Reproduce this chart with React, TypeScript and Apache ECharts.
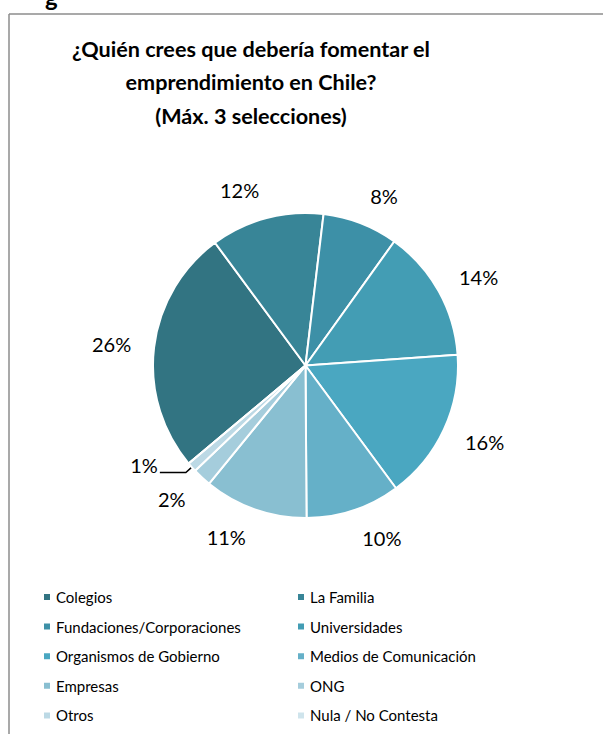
import React, { useEffect, useRef } from "react";
import * as echarts from "echarts";

const categories = [
  "Colegios",
  "La Familia",
  "Fundaciones/Corporaciones",
  "Universidades",
  "Organismos de Gobierno",
  "Medios de Comunicación",
  "Empresas",
  "ONG",
  "Otros",
  "Nula / No Contesta",
];
const values = [26, 12, 8, 14, 16, 10, 11, 2, 1, 0];
const colors = [
  "#327482",
  "#388597",
  "#3d90a7",
  "#439db4",
  "#4aa7c1",
  "#65b0c8",
  "#89bfd1",
  "#a5cddc",
  "#bcd9e5",
  "#cfe4ec",
];
const titleLines = [
  "¿Quién crees que debería fomentar el",
  "emprendimiento en Chile?",
  "(Máx. 3 selecciones)",
];
const leaderCategory = "Otros";

const START_ANGLE = 220; // echarts degrees (ccw from 3 o'clock)

export default function App() {
  const ref = useRef<HTMLDivElement>(null);
  useEffect(() => {
    if (!ref.current) return;
    const chart = echarts.init(ref.current, undefined, { renderer: "svg" });
    const total = values.reduce((a, b) => a + b, 0);
    // mid angles, clockwise from 12 o'clock, radians
    const theta0 = 90 - START_ANGLE;
    let cum = 0;
    const mids = values.map((v) => {
      const m = theta0 + (360 * (cum + v / 2)) / total;
      cum += v;
      return (m * Math.PI) / 180;
    });

    const data = categories.map((name, i) => {
      const item: any = { name, value: values[i], itemStyle: { color: colors[i] } };
      if (values[i] === 0) item.label = { show: false };
      if (name === leaderCategory) {
        item.labelLine = {
          show: true,
          length: 8,
          length2: 26,
          lineStyle: { color: "#000", width: 1.5 },
        };
      }
      return item;
    });

    const legendBase = {
      orient: "vertical",
      itemWidth: 8,
      itemHeight: 8,
      itemGap: 11.6,
      icon: "rect",
      selectedMode: false,
      top: 588,
      padding: 0,
      height: 160,
      textStyle: { fontFamily: "Lato", fontSize: 15, color: "#000", lineHeight: 18 },
    };

    chart.setOption({
      animation: false,
      backgroundColor: "#fff",
      title: {
        text: titleLines.join("\n"),
        left: 251,
        top: 32,
        textAlign: "center",
        padding: 0,
        textStyle: {
          fontFamily: "Lato",
          fontWeight: "bold",
          fontSize: 21.6,
          lineHeight: 33.5,
          color: "#000",
        },
      },
      legend: [
        { ...legendBase, left: 42, data: categories.filter((_, i) => i % 2 === 0) },
        { ...legendBase, left: 296, data: categories.filter((_, i) => i % 2 === 1) },
      ],
      graphic: [
        {
          type: "text",
          x: 45,
          y: -4,
          silent: true,
          style: {
            text: "g",
            fontFamily: "Lato",
            fontWeight: "bold",
            fontSize: 24,
            fill: "#000",
            textVerticalAlign: "middle",
          },
        },
        {
          type: "line",
          shape: { x1: 9, y1: 14, x2: 603, y2: 14 },
          style: { stroke: "#8c8c8c", lineWidth: 1.5 },
          silent: true,
        },
        {
          type: "line",
          shape: { x1: 9, y1: 14, x2: 9, y2: 734 },
          style: { stroke: "#8c8c8c", lineWidth: 1.5 },
          silent: true,
        },
      ],
      series: [
        {
          type: "pie",
          center: [305.5, 365.5],
          radius: 152.5,
          startAngle: START_ANGLE,
          clockwise: true,
          avoidLabelOverlap: false,
          minShowLabelAngle: 0,
          itemStyle: { borderColor: "#fff", borderWidth: 2 },
          label: {
            show: true,
            position: "outside",
            formatter: "{c}%",
            fontFamily: "Lato",
            fontSize: 20,
            color: "#000",
            distanceToLabelLine: 2,
          },
          labelLine: { show: false, length: 21, length2: 0 },
          labelLayout: (p: any) => {
            const i = p.dataIndex;
            if (categories[i] === leaderCategory) return { dy: -7 };
            return { dy: -Math.cos(mids[i]) * 8 };
          },
          emphasis: { disabled: true },
          data,
        },
      ],
    });
    return () => chart.dispose();
  }, []);
  return (
    <div
      ref={ref}
      style={{ position: "fixed", left: 0, top: 0, width: 603, height: 734 }}
    />
  );
}
